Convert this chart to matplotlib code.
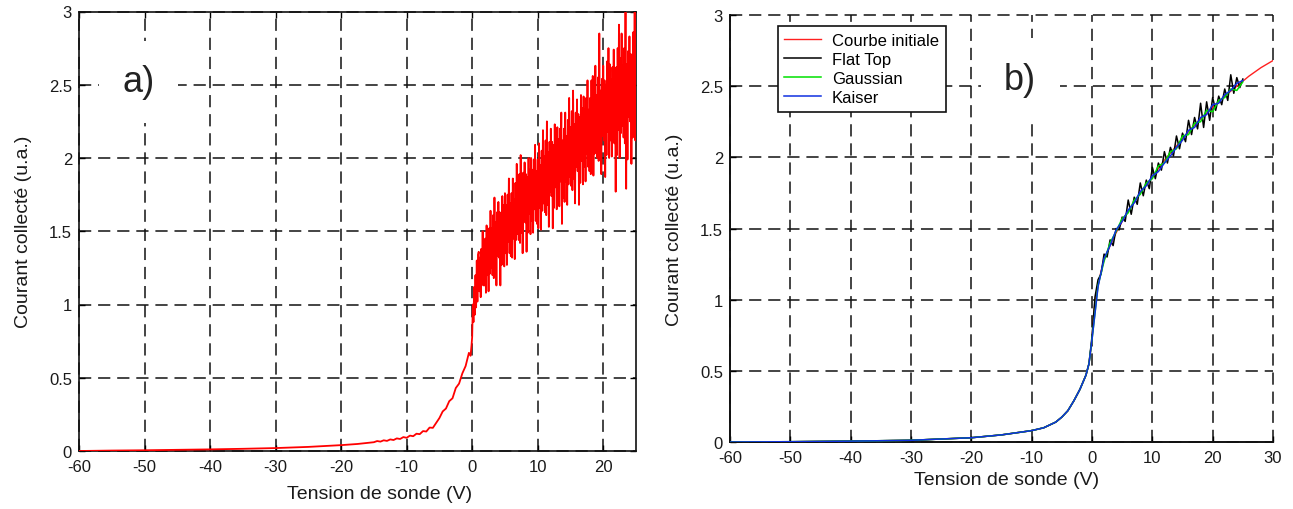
import numpy as np
import matplotlib
matplotlib.use("Agg")
import matplotlib.pyplot as plt

plt.rcParams['font.family'] = ['Liberation Sans', 'DejaVu Sans']

# ---------------- data: panel a) (raw noisy probe current) ----------------
xa_neg = [-60, -55, -50, -45, -40, -35, -30, -25, -20, -17.5,
          -15, -14.5, -14, -13.5, -13, -12.5, -12, -11.5, -11, -10.5,
          -10, -9.5, -9, -8.5, -8, -7.5, -7, -6.5, -6, -5.5,
          -5, -4.5, -4, -3.5, -3, -2.5, -2, -1.5, -1, -0.5, -0.25, -0.1]
ya_neg = [0.0, 0.003, 0.005, 0.008, 0.011, 0.015, 0.02, 0.028, 0.04, 0.048,
          0.060, 0.068, 0.064, 0.073, 0.069, 0.079, 0.075, 0.086, 0.082, 0.095,
          0.090, 0.105, 0.101, 0.118, 0.115, 0.136, 0.133, 0.160, 0.158, 0.192,
          0.225, 0.27, 0.29, 0.34, 0.36, 0.43, 0.46, 0.53, 0.58, 0.67, 0.65, 0.72]
xa_pos = np.round(np.arange(0, 25.001, 0.1), 1)
ya_pos = [0.78, 1.00, 0.88, 1.12, 0.93, 1.20, 0.98, 1.30, 1.02, 1.34,
          1.36, 1.09, 1.32, 1.05, 1.38, 1.17, 1.50, 1.13, 1.36, 1.13,
          1.45, 1.08, 1.54, 1.20, 1.43, 1.09, 1.52, 1.21, 1.64, 1.25,
          1.52, 1.20, 1.61, 1.18, 1.73, 1.25, 1.56, 1.13, 1.63, 1.33,
          1.70, 1.32, 1.63, 1.13, 1.62, 1.27, 1.74, 1.39, 1.68, 1.26,
          1.76, 1.35, 1.68, 1.27, 1.75, 1.43, 1.86, 1.35, 1.69, 1.33,
          1.76, 1.32, 1.86, 1.45, 1.72, 1.31, 1.83, 1.44, 1.96, 1.48,
          1.79, 1.44, 1.89, 1.42, 2.02, 1.49, 1.83, 1.35, 1.90, 1.57,
          1.97, 1.56, 1.89, 1.36, 1.87, 1.49, 2.00, 1.62, 1.92, 1.48,
          2.00, 1.57, 1.92, 1.49, 1.99, 1.65, 2.09, 1.57, 1.91, 1.55,
          1.99, 1.52, 2.10, 1.66, 1.95, 1.51, 2.05, 1.64, 2.19, 1.69,
          2.01, 1.63, 2.12, 1.61, 2.25, 1.68, 2.04, 1.53, 2.11, 1.77,
          2.20, 1.74, 2.11, 1.52, 2.09, 1.66, 2.23, 1.80, 2.14, 1.65,
          2.21, 1.76, 2.13, 1.67, 2.20, 1.84, 2.31, 1.55, 2.12, 1.73,
          2.20, 1.70, 2.31, 1.84, 2.15, 1.68, 2.26, 1.82, 2.41, 1.87,
          2.21, 1.81, 2.32, 1.78, 2.46, 1.86, 2.23, 1.69, 2.31, 1.94,
          2.40, 1.91, 2.30, 1.68, 2.28, 1.83, 2.43, 1.98, 2.34, 1.82,
          2.42, 1.94, 2.33, 1.84, 2.41, 2.03, 2.53, 1.94, 2.33, 1.91,
          2.41, 1.89, 2.53, 2.04, 2.56, 1.88, 2.48, 2.03, 2.63, 2.07,
          2.43, 2.00, 2.55, 1.98, 2.85, 2.06, 2.46, 1.89, 2.54, 2.15,
          2.63, 2.12, 2.53, 1.87, 2.50, 2.02, 2.66, 2.18, 2.75, 2.00,
          2.64, 2.12, 2.54, 2.01, 2.62, 2.21, 2.74, 2.10, 2.52, 1.77,
          2.62, 2.02, 2.75, 2.19, 2.91, 2.00, 2.68, 2.17, 2.85, 2.22,
          2.63, 2.14, 2.75, 2.10, 3.02, 1.79, 2.64, 1.99, 2.73, 2.28,
          2.83, 2.25, 2.71, 1.96, 2.68, 2.14, 2.86, 2.32, 3.04, 2.12,
          2.90]

# ---------------- data: panel b) (filtered curves) ----------------
x_init = [-60, -50, -40, -30, -20, -15, -10, -8, -6, -5, -4, -3, -2, -1.5, -1, -0.5,
          0, 0.25, 0.5, 1, 1.5, 2, 3, 4, 5, 6, 8, 10, 12, 14, 16, 18, 20, 22, 24,
          26, 28, 30]
y_init = [0.0, 0.002, 0.006, 0.012, 0.03, 0.05, 0.08, 0.1, 0.14, 0.175, 0.22, 0.29,
          0.37, 0.42, 0.47, 0.55, 0.72, 0.88, 0.98, 1.1, 1.2, 1.28, 1.38, 1.47, 1.55,
          1.62, 1.75, 1.86, 1.98, 2.08, 2.18, 2.27, 2.35, 2.43, 2.5, 2.57, 2.63, 2.68]

x_flat = np.arange(0, 25.001, 0.5)
y_flat = [0.74, 1.02, 1.14, 1.18, 1.32, 1.30, 1.42, 1.38, 1.50, 1.49,
          1.58, 1.55, 1.70, 1.60, 1.72, 1.67, 1.82, 1.73, 1.84, 1.78,
          1.93, 1.85, 1.96, 1.91, 2.04, 1.96, 2.07, 2.01, 2.15, 2.06,
          2.17, 2.11, 2.26, 2.16, 2.28, 2.20, 2.38, 2.21, 2.39, 2.26,
          2.42, 2.33, 2.43, 2.37, 2.48, 2.40, 2.58, 2.45, 2.56, 2.49, 2.55]

x_win = np.arange(0, 25.001, 1.0)
y_gauss = [0.72, 1.10, 1.27, 1.40, 1.48, 1.57, 1.61, 1.70, 1.74, 1.82, 1.85, 1.94, 1.96,
           2.04, 2.06, 2.15, 2.16, 2.24, 2.25, 2.33, 2.32, 2.40, 2.42, 2.48, 2.47, 2.53]
y_kaiser = [0.72, 1.09, 1.29, 1.38, 1.49, 1.55, 1.63, 1.68, 1.76, 1.80, 1.87, 1.90, 1.96,
            2.01, 2.07, 2.12, 2.19, 2.21, 2.28, 2.30, 2.37, 2.38, 2.44, 2.47, 2.52, 2.54]

legend_labels = ["Courbe initiale", "Flat Top", "Gaussian", "Kaiser"]
xticks_a = [-60, -50, -40, -30, -20, -10, 0, 10, 20]
xticks_b = [-60, -50, -40, -30, -20, -10, 0, 10, 20, 30]
yticks = [0, 0.5, 1, 1.5, 2, 2.5, 3]
ytick_labels = ["0", "0.5", "1", "1.5", "2", "2.5", "3"]

# ---------------- figure ----------------
W, H = 1293, 510
fig = plt.figure(figsize=(W / 100, H / 100), dpi=100)

def ax_rect(l, r, t, b):
    return [l / W, 1 - b / H, (r - l) / W, (b - t) / H]

txtc = '#1a1a1a'
dash = (0, (8, 4.5))

def style(ax, xt):
    ax.set_yticks(yticks)
    ax.set_yticklabels(ytick_labels)
    ax.set_xticks(xt)
    ax.set_xticklabels([str(v) for v in xt])
    ax.tick_params(direction='in', length=4, width=1, labelsize=12,
                   labelcolor=txtc)
    ax.tick_params(axis='x', pad=6)
    ax.tick_params(axis='y', pad=5)
    ax.grid(True, color='#111111', linestyle=dash, linewidth=1.1)
    ax.set_axisbelow(True)
    for gl in ax.get_xgridlines() + ax.get_ygridlines():
        gl.set_clip_on(False)

# Panel a
axa = fig.add_axes(ax_rect(79, 636, 12.5, 452))
x_a = np.concatenate([xa_neg, xa_pos])
y_a = np.concatenate([ya_neg, ya_pos])
axa.plot(x_a, y_a, color='#ff0000', lw=1.3, zorder=3)
axa.set_xlim(-60, 25)
axa.set_ylim(0, 3)
style(axa, xticks_a)
axa.tick_params(top=True, right=True)
for s in axa.spines.values():
    s.set_linewidth(1.2)
    s.set_color('#111111')
axa.set_xlabel("Tension de sonde (V)", fontsize=14, color=txtc)
axa.xaxis.set_label_coords(0.54, -0.078)
axa.set_ylabel("Courant collecté (u.a.)", fontsize=14, color=txtc)
axa.yaxis.set_label_coords(-0.084, 0.5)
axa.text(-50.9, 2.52, "a)", fontsize=26, color='#222222', ha='center', va='center',
         zorder=5, bbox=dict(boxstyle='square,pad=0.65', fc='white', ec='none'))

# Panel b
axb = fig.add_axes(ax_rect(730, 1273, 16, 443))
x_init_arr = np.array(x_init)
y_init_arr = np.array(y_init)
neg = x_init_arr < 0
axb.plot(x_init, y_init, color='#ff2020', lw=1.0, zorder=3, label=legend_labels[0])
axb.plot(np.concatenate([x_init_arr[neg], x_flat]), np.concatenate([y_init_arr[neg], y_flat]),
         color='#000000', lw=1.1, zorder=4, label=legend_labels[1])
axb.plot(np.concatenate([x_init_arr[neg], x_win]), np.concatenate([y_init_arr[neg], y_gauss]),
         color='#00e000', lw=1.1, zorder=5, label=legend_labels[2])
axb.plot(np.concatenate([x_init_arr[neg], x_win]), np.concatenate([y_init_arr[neg], y_kaiser]),
         color='#1030e0', lw=1.1, zorder=6, label=legend_labels[3])
axb.set_xlim(-60, 30)
axb.set_ylim(0, 3)
style(axb, xticks_b)
axb.spines['top'].set_visible(False)
axb.spines['right'].set_visible(False)
for s in ('left', 'bottom'):
    axb.spines[s].set_linewidth(1.4)
    axb.spines[s].set_color('#111111')
axb.set_xlabel("Tension de sonde (V)", fontsize=14, color=txtc)
axb.xaxis.set_label_coords(0.51, -0.068)
axb.set_ylabel("Courant collecté (u.a.)", fontsize=14, color=txtc)
axb.yaxis.set_label_coords(-0.087, 0.5)
axb.text(-11.9, 2.55, "b)", fontsize=26, color='#222222', ha='center', va='center',
         zorder=7, bbox=dict(boxstyle='square,pad=0.65', fc='white', ec='none'))
leg = axb.legend(loc='upper left', bbox_to_anchor=(0.088, 0.974), borderaxespad=0,
                 fontsize=12, frameon=True, fancybox=False, framealpha=1,
                 edgecolor='#111111', handlelength=2.2, handletextpad=0.65,
                 labelspacing=0.25, borderpad=0.4)
leg.get_frame().set_linewidth(1.2)
leg.set_zorder(10)

fig.savefig("out.png", dpi=100)
